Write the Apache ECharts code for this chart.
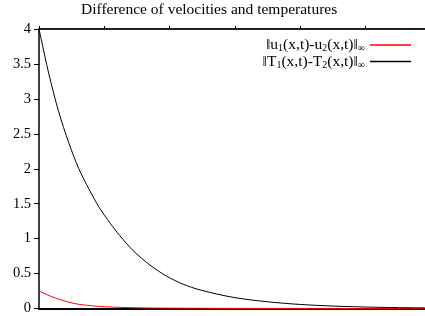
<!DOCTYPE html>
<html>
<head>
<meta charset="utf-8">
<script src="https://cdn.jsdelivr.net/npm/echarts@6/dist/echarts.min.js"></script>
<style>
  html, body { margin: 0; padding: 0; background: #fff; }
  #chart { width: 425px; height: 316px; }
</style>
</head>
<body>
<div id="chart"></div>
<script>
// values, [x, value]
const tempDiff = [
  [0, 4.0], [0.15, 3.36], [0.3, 2.82], [0.46, 2.36], [0.61, 2.0], [0.77, 1.7],
  [0.92, 1.45], [1.09, 1.22], [1.24, 1.04], [1.44, 0.83], [1.7, 0.62], [1.96, 0.46],
  [2.2, 0.35], [2.47, 0.265], [2.97, 0.16], [3.49, 0.097], [4.0, 0.058], [4.5, 0.035],
  [5.0, 0.021], [5.5, 0.013], [5.91, 0.009]
]
const velDiff = [
  [0, 0.25], [0.25, 0.15], [0.55, 0.07], [0.8, 0.04], [1.01, 0.025], [1.5, 0.01],
  [2.0, 0.005], [3.0, 0.001], [4.0, 0], [5.91, 0]
]
const yTicks = [0, 0.5, 1, 1.5, 2, 2.5, 3, 3.5, 4]
const xMax = 5.91
const yMax = yTicks[yTicks.length - 1]

const serif = 'Liberation Serif'
const sub = { fontFamily: serif, fontSize: 10, color: '#000', verticalAlign: 'bottom', padding: [7, 0, 0, 0] }

// only the split line at the top value is drawn (frame line of the plot)
const splitColors = yTicks.map(v => v === yMax ? '#222' : 'rgba(0,0,0,0)')

const chart = echarts.init(document.getElementById('chart'))
chart.setOption({
  animation: false,
  title: {
    text: 'Difference of velocities and temperatures',
    left: 81,
    top: 2,
    padding: 0,
    textStyle: { fontFamily: serif, fontSize: 15.5, fontWeight: 'normal', color: '#000' }
  },
  legend: {
    orient: 'vertical',
    right: 9,
    top: 32,
    align: 'right',
    icon: 'rect',
    itemWidth: 41,
    itemHeight: 1.5,
    itemGap: 0,
    data: ['u', 'T'],
    formatter: name => name === 'u'
      ? '‖u{s|1}(x,t)-u{s|2}(x,t)‖{s|∞}'
      : '‖T{s|1}(x,t)-T{s|2}(x,t)‖{s|∞}',
    textStyle: {
      fontFamily: serif, fontSize: 15.5, color: '#000',
      rich: { s: sub }
    }
  },
  grid: { left: 39, right: 0, top: 29, bottom: 6 },
  xAxis: [
    {
      type: 'value', position: 'bottom', min: 0, max: xMax,
      axisLine: { onZero: false, lineStyle: { color: '#000', width: 2 } },
      axisTick: { show: false },
      axisLabel: { show: false },
      splitLine: { show: false }
    },
    {
      type: 'value', position: 'top', min: 0, max: xMax, interval: 1,
      axisLine: { show: true, onZero: false, lineStyle: { color: '#222', width: 2 } },
      axisTick: { show: true, length: 3, lineStyle: { color: '#000' } },
      axisLabel: { show: false },
      splitLine: { show: false }
    }
  ],
  yAxis: {
    type: 'value', min: yTicks[0], max: yMax, interval: 0.5,
    axisLine: { show: true, lineStyle: { color: '#000', width: 1.5 } },
    axisTick: { show: true, length: 5, lineStyle: { color: '#000' } },
    axisLabel: { margin: 8, fontFamily: serif, fontSize: 14.5, color: '#000' },
    splitLine: { show: true, lineStyle: { color: splitColors, width: 2 } }
  },
  series: [
    {
      name: 'u', type: 'line', data: velDiff, smooth: 0.3, clip: false,
      symbol: 'none', lineStyle: { color: '#ff0000', width: 1 }, itemStyle: { color: '#ff0000' }
    },
    {
      name: 'T', type: 'line', data: tempDiff, smooth: 0.3, clip: false,
      symbol: 'none', lineStyle: { color: '#000', width: 1 }, itemStyle: { color: '#000' }
    }
  ]
})
</script>
</body>
</html>
